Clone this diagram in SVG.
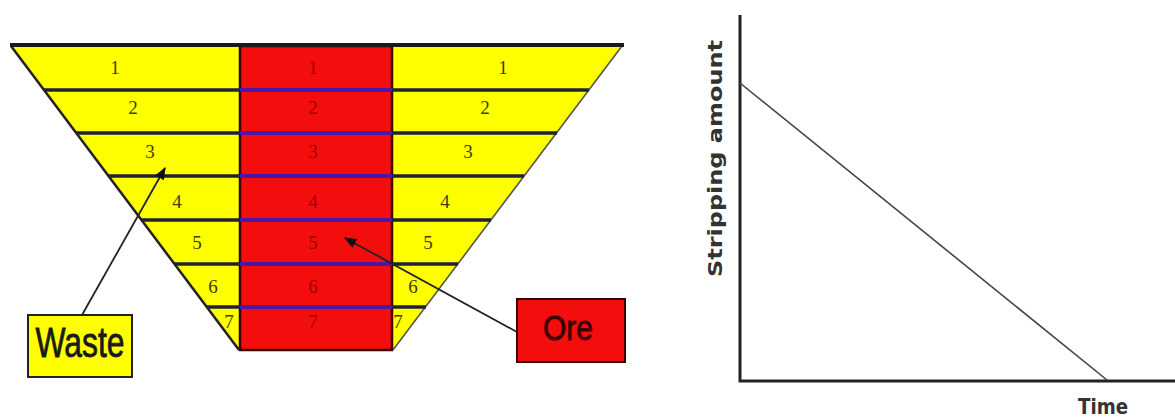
<svg xmlns="http://www.w3.org/2000/svg" width="1175" height="419" viewBox="0 0 1175 419">
<style>
.yel{fill:#ffff00;stroke:none}
.slope{stroke:#222;stroke-width:2.5;fill:none}
.slopeR{stroke:#555;stroke-width:1.6;fill:none}
.ly{stroke:#20203a;stroke-width:3.5}
.lr{stroke:#4a18a8;stroke-width:4}
.ny{font-family:"Liberation Serif",serif;font-size:19px;fill:#3e3e0c;text-anchor:middle}
.nr{font-family:"Liberation Serif",serif;font-size:19px;fill:#a00000;text-anchor:middle}
.lbl{font-family:"Liberation Sans",Arial,sans-serif;text-anchor:middle;stroke-width:0.8}
.axis{stroke:#222;stroke-width:3;fill:none}
.ax{font-family:"DejaVu Sans",sans-serif;font-weight:bold;fill:#333}
.conn{stroke:#222;stroke-width:1.8;fill:none}
</style>
<defs>
<marker id="ah" viewBox="0 0 10 10" refX="9" refY="5" markerWidth="7" markerHeight="7" orient="auto" markerUnits="strokeWidth">
<path d="M0,1 L10,5 L0,9 Z" fill="#111"/>
</marker>
</defs>
<rect width="1175" height="419" fill="#fff"/>
<g id="pit">
<polygon class="yel" points="11,46 240,46 240,350 238,350"/>
<polygon class="yel" points="392,46 622,46 393,350 392,350"/>
<rect x="240" y="46" width="152" height="304" fill="#f40d0d" stroke="#3a0000" stroke-width="2.5"/>
<line class="slope" x1="11" y1="46" x2="239" y2="350"/>
<line class="slopeR" x1="622" y1="46" x2="393" y2="350"/>
<line x1="10" y1="45" x2="624" y2="45" stroke="#1a1a1a" stroke-width="4"/>
<line class="ly" x1="44" y1="90" x2="240" y2="90"/><line class="lr" x1="240" y1="90" x2="392" y2="90"/><line class="ly" x1="392" y1="90" x2="589" y2="90"/>
<line class="ly" x1="76" y1="133" x2="240" y2="133"/><line class="lr" x1="240" y1="133" x2="392" y2="133"/><line class="ly" x1="392" y1="133" x2="557" y2="133"/>
<line class="ly" x1="108" y1="176" x2="240" y2="176"/><line class="lr" x1="240" y1="176" x2="392" y2="176"/><line class="ly" x1="392" y1="176" x2="524" y2="176"/>
<line class="ly" x1="141" y1="220" x2="240" y2="220"/><line class="lr" x1="240" y1="220" x2="392" y2="220"/><line class="ly" x1="392" y1="220" x2="491" y2="220"/>
<line class="ly" x1="174" y1="264" x2="240" y2="264"/><line class="lr" x1="240" y1="264" x2="392" y2="264"/><line class="ly" x1="392" y1="264" x2="458" y2="264"/>
<line class="ly" x1="207" y1="307" x2="240" y2="307"/><line class="lr" x1="240" y1="307" x2="392" y2="307"/><line class="ly" x1="392" y1="307" x2="426" y2="307"/>
<text class="ny" x="115" y="74">1</text>
<text class="ny" x="133" y="114">2</text>
<text class="ny" x="150" y="158">3</text>
<text class="ny" x="177" y="208">4</text>
<text class="ny" x="197" y="249">5</text>
<text class="ny" x="213" y="293">6</text>
<text class="ny" x="229" y="328">7</text>
<text class="nr" x="313" y="74">1</text>
<text class="nr" x="313" y="114">2</text>
<text class="nr" x="313" y="158">3</text>
<text class="nr" x="313" y="208">4</text>
<text class="nr" x="313" y="249">5</text>
<text class="nr" x="313" y="293">6</text>
<text class="nr" x="313" y="328">7</text>
<text class="ny" x="503" y="74">1</text>
<text class="ny" x="485" y="114">2</text>
<text class="ny" x="468" y="158">3</text>
<text class="ny" x="445" y="208">4</text>
<text class="ny" x="428" y="249">5</text>
<text class="ny" x="413" y="293">6</text>
<text class="ny" x="398" y="328">7</text>
</g>
<g id="waste">
<rect x="28" y="315" width="104" height="62" fill="#ffff00" stroke="#222" stroke-width="2"/>
<text class="lbl" x="80" y="357" font-size="42" fill="#1a1a1a" stroke="#1a1a1a" textLength="89" lengthAdjust="spacingAndGlyphs">Waste</text>
</g>
<g id="ore">
<rect x="517" y="299" width="108" height="63" fill="#f40d0d" stroke="#3a0000" stroke-width="2"/>
<text class="lbl" x="568" y="340" font-size="35" fill="#3a0000" stroke="#3a0000" textLength="50" lengthAdjust="spacingAndGlyphs">Ore</text>
</g>
<g id="connectors">
<line class="conn" x1="82" y1="315" x2="165" y2="168" marker-end="url(#ah)"/>
<line class="conn" x1="517" y1="332" x2="345" y2="238" marker-end="url(#ah)"/>
</g>
<g id="graph">
<polyline class="axis" points="740,15 740,381 1175,381"/>
<line x1="740" y1="83" x2="1107" y2="380" stroke="#444" stroke-width="1.6"/>
<text class="ax" transform="translate(722,277) rotate(-90)" font-size="20" textLength="237" lengthAdjust="spacingAndGlyphs">Stripping amount</text>
<text class="ax" x="1078" y="414" font-size="22" textLength="50" lengthAdjust="spacingAndGlyphs">Time</text>
</g>
</svg>
